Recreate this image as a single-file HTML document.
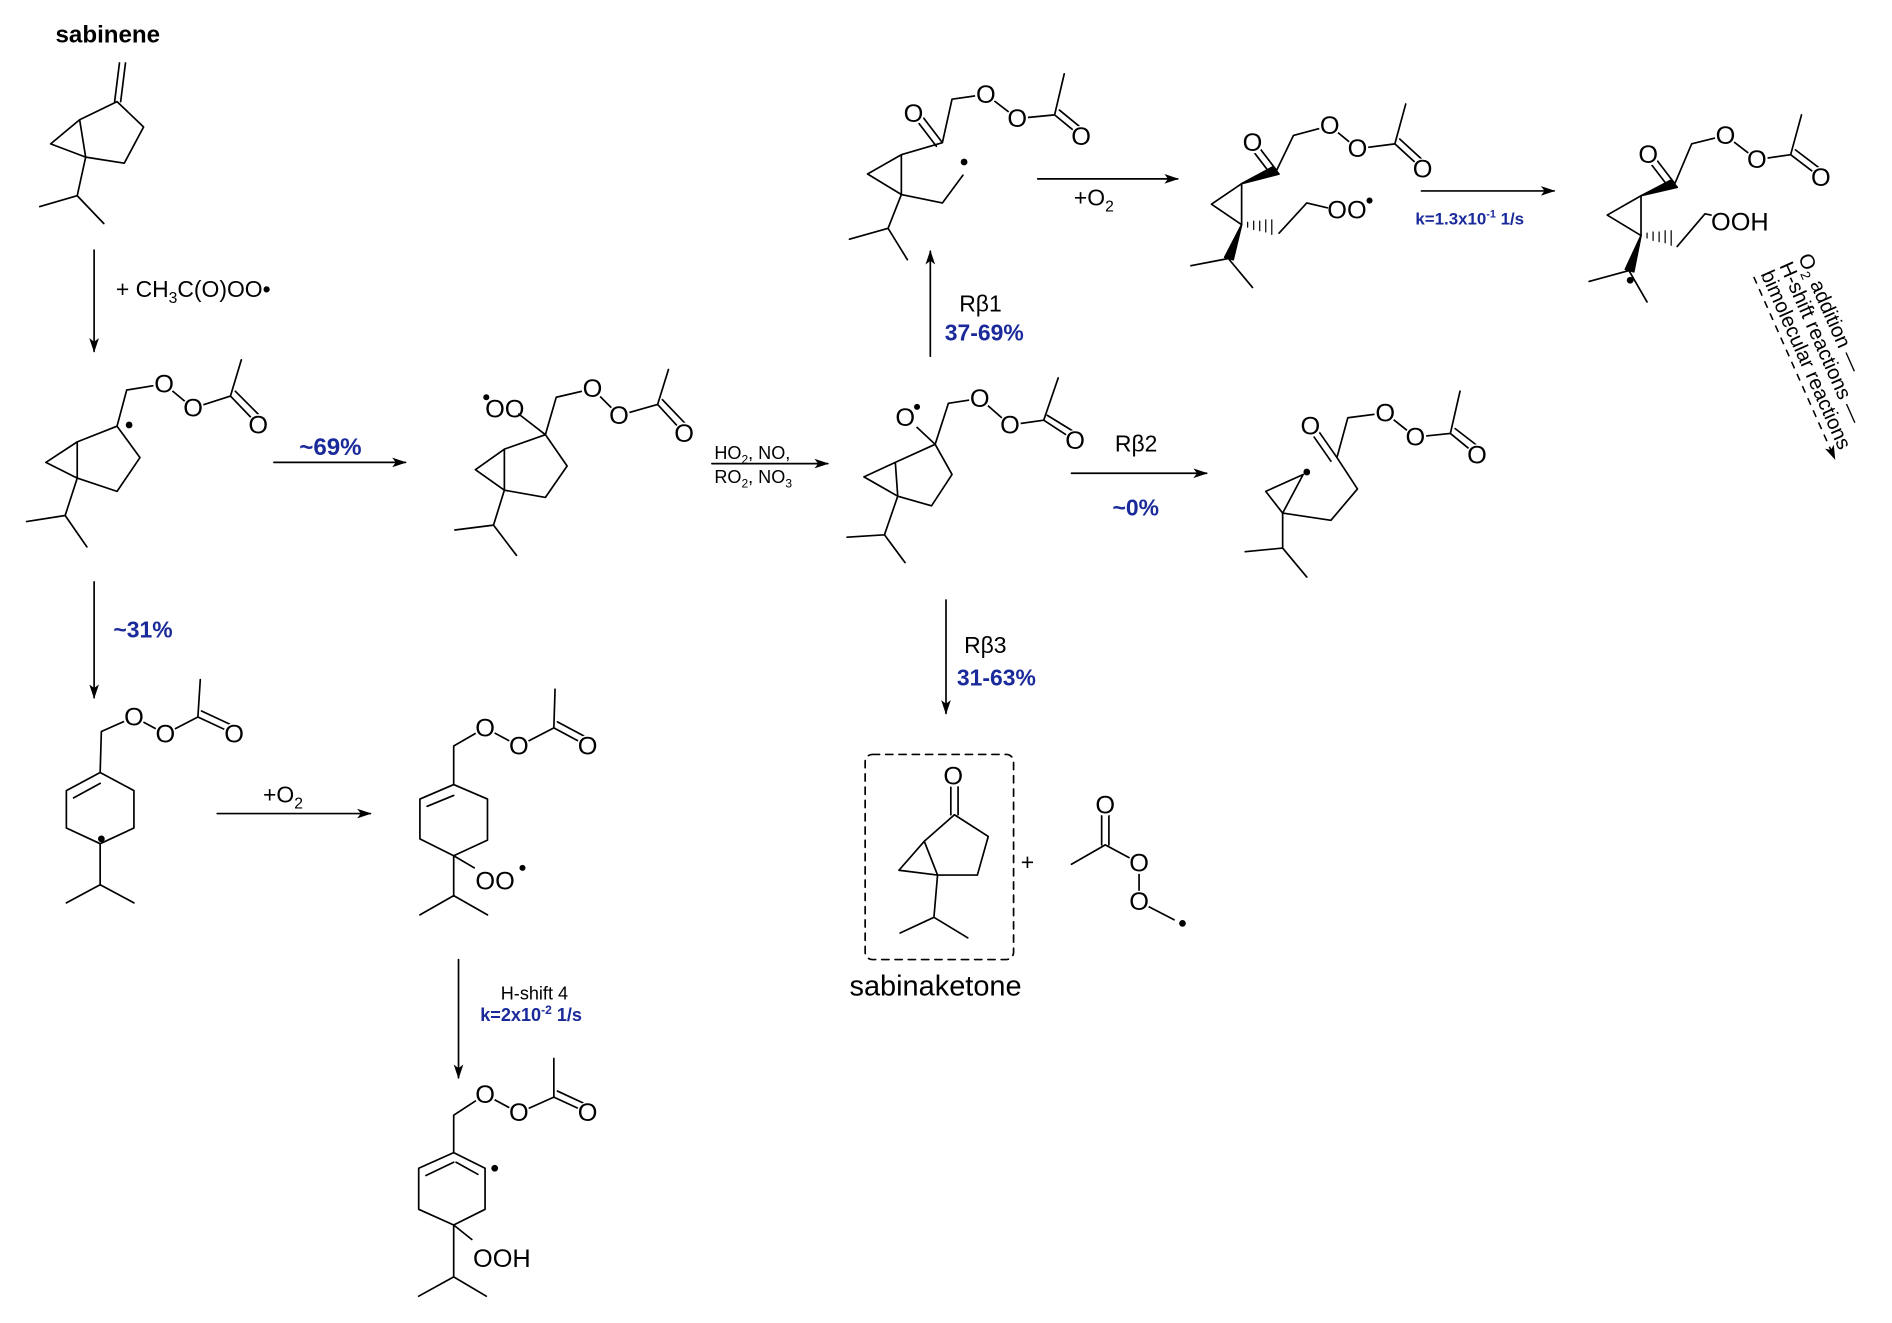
<!DOCTYPE html>
<html><head><meta charset="utf-8"><style>
html,body{margin:0;padding:0;background:#fff;}
svg{display:block;}
text{font-family:"Liberation Sans",Arial,sans-serif;}
.o{font-size:21px;text-anchor:middle;fill:#000;}
.b{fill:#1a2a9a;font-weight:bold;}
</style></head><body>
<svg width="1892" height="1323" viewBox="0 0 1568 1096" xmlns="http://www.w3.org/2000/svg">
<defs>
<marker id="ah" markerWidth="12" markerHeight="8" refX="11" refY="4" orient="auto" markerUnits="userSpaceOnUse"><path d="M0,0 L12,4 L0,8 L3,4z" fill="#000"/></marker>
</defs>
<g stroke="#000" stroke-width="1.4" fill="none" stroke-linecap="round" stroke-linejoin="round">
<line x1="78" y1="207" x2="78" y2="291" marker-end="url(#ah)"/>
<line x1="227" y1="383" x2="336" y2="383" marker-end="url(#ah)"/>
<line x1="590" y1="384" x2="686" y2="384" marker-end="url(#ah)"/>
<line x1="771" y1="295" x2="771" y2="208" marker-end="url(#ah)"/>
<line x1="860" y1="148" x2="976" y2="148" marker-end="url(#ah)"/>
<line x1="1178" y1="158" x2="1288" y2="158" marker-end="url(#ah)"/>
<line x1="888" y1="392" x2="1000" y2="392" marker-end="url(#ah)"/>
<line x1="784" y1="497" x2="784" y2="591" marker-end="url(#ah)"/>
<line x1="78" y1="482" x2="78" y2="578" marker-end="url(#ah)"/>
<line x1="180" y1="674" x2="307" y2="674" marker-end="url(#ah)"/>
<line x1="380" y1="795" x2="380" y2="893" marker-end="url(#ah)"/>
<rect x="717" y="625" width="123" height="170" rx="6" stroke-dasharray="6,5"/>

<path d="M97,84 L119,105 L103,135 L71,130 L66,99 Z M66,99 L42,119 L71,130 M71,130 L64,162 L33,171 M64,162 L86,185"/>
<path d="M95,84 L99,52 M100,84 L104,52"/>
<path d="M97,353 L116,379 L97,407 L64,396 L64,366 Z M64,366 L38,383 L64,396 M64,396 L54,427 L22,432 M54,427 L72,453"/>
<path d="M97,353 L105,323 L136,318 L160,338 L191,328 L200,298 M191,328 L214,352 M195,324 L218,347"/>
<path d="M452,360 L470,386 L452,412 L418,406 L418,372 Z M418,372 L394,389 L418,406 M418,406 L409,435 L377,439 M409,435 L428,460 M452,360 L430,343"/>
<path d="M452,360 L461,329 L491,322 L513,344 L545,335 L554,306 M545,335 L567,359 M549,331 L571,354"/>
<path d="M775,368 L789,393 L772,419 L744,411 L742,383 Z M742,383 L716,395 L744,411 M744,411 L733,443 L702,445 M733,443 L750,466 M775,368 L760,354"/>
<path d="M775,368 L786,334 L812,330 L837,352 L865,348 L877,313 M865,348 L891,365 M868,344 L894,360"/>
<path d="M747,128 L719,144 L747,161 Z M747,128 L781,118 M781,118 L765,97 M776,121 L760,100 M781,118 L789,82 L817,78 L843,98 L874,95 L882,61 M874,95 L896,113 M878,91 L900,109 M747,161 L781,168 L798,145 M747,161 L736,189 L704,198 M736,189 L752,215"/>
<path d="M1029,152 L1004,169 L1029,186 Z M1058,141 L1042,120 M1053,144 L1037,123 M1058,141 L1072,112 L1102,104 L1125,123 L1156,119 L1165,86 M1156,119 L1179,140 M1160,115 L1183,136 M1060,193 L1083,168 L1100,172 M1018,214 L987,220 M1018,214 L1038,238"/>
<polygon points="1029,152 1055,138 1060,144" fill="#000"/>
<polygon points="1029,186 1015,213 1022,215" fill="#000"/>
<path d="M1034,188 L1034,184 M1039,190 L1039,183 M1044,191 L1044,183 M1049,192 L1049,182 M1054,194 L1054,182" stroke-width="1"/>
<path d="M1360,162 L1332,178 L1360,195 Z M1388,152 L1372,131 M1383,155 L1367,134 M1388,152 L1402,119 L1430,112 L1456,132 L1484,128 L1493,95 M1484,128 L1509,147 M1488,124 L1513,143 M1390,204 L1413,177 L1418,178 M1350,224 L1317,233 M1350,224 L1365,250"/>
<polygon points="1360,162 1385,149 1390,155" fill="#000"/>
<polygon points="1360,195 1347,223 1354,225" fill="#000"/>
<path d="M1365,197 L1365,193 M1370,199 L1370,192 M1375,200 L1375,192 M1380,201 L1380,191 M1385,203 L1385,191" stroke-width="1"/>
<path d="M1049,407 L1080,393 L1063,425 Z M1063,425 L1103,431 L1125,405 L1108,379 M1108,379 L1092,356 M1103,382 L1087,359 M1108,379 L1117,346 L1148,342 L1173,362 L1202,359 L1210,324 M1202,359 L1224,377 M1206,355 L1228,372 M1063,425 L1063,454 L1032,457 M1063,454 L1083,478"/>
<path d="M791,675 L819,693 L810,725 L777,725 L766,697 Z M766,697 L745,721 L777,725 M777,725 L774,760 L746,773 M774,760 L802,777 M788,675 L788,652 M794,675 L794,652"/>
<path d="M913,700 L913,670 M919,700 L919,670 M916,700 L888,716 M916,700 L944,715 L944,747 L973,762"/>
<path d="M83,640 L111,655 L111,686 L83,699 L55,686 L55,655 Z M61,661 L83,649 M83,699 L83,733 L55,748 M83,733 L111,748 M83,640 L84,606 L111,594 L137,608 L164,594 L166,563 M164,594 L194,608 M167,589 L197,603"/>
<path d="M376,650 L404,662 L404,696 L376,709 L348,695 L348,662 Z M354,668 L376,659 M376,709 L376,742 L348,758 M376,742 L404,758 M376,709 L393,719 M376,650 L376,618 L402,603 L430,618 L459,603 L460,571 M459,603 L487,618 M462,598 L490,613"/>
<path d="M376,955 L402,968 L402,1002 L376,1015 L347,1002 L347,968 Z M353,974 L376,963 M378,963 L396,973 M376,1015 L376,1058 L347,1074 M376,1058 L403,1074 M376,1015 L391,1027 M376,955 L376,924 L402,907 L430,922 L459,909 L459,877 M459,909 L487,922 M462,904 L490,917"/>
</g>

<g fill="#fff">
<circle cx="136" cy="318" r="9"/><circle cx="160" cy="338" r="9"/><circle cx="214" cy="352" r="9"/>
<circle cx="491" cy="322" r="9"/><circle cx="513" cy="344" r="9"/><circle cx="567" cy="359" r="9"/>
<circle cx="812" cy="330" r="9"/><circle cx="837" cy="352" r="9"/><circle cx="891" cy="365" r="9"/>
<circle cx="817" cy="78" r="9"/><circle cx="843" cy="98" r="9"/><circle cx="896" cy="113" r="9"/><circle cx="757" cy="94" r="9"/>
<circle cx="1102" cy="104" r="9"/><circle cx="1125" cy="123" r="9"/><circle cx="1179" cy="140" r="9"/><circle cx="1038" cy="118" r="9"/>
<circle cx="1430" cy="112" r="9"/><circle cx="1456" cy="132" r="9"/><circle cx="1509" cy="147" r="9"/><circle cx="1366" cy="128" r="9"/>
<circle cx="1148" cy="342" r="9"/><circle cx="1173" cy="362" r="9"/><circle cx="1224" cy="377" r="9"/><circle cx="1086" cy="353" r="9"/>
<circle cx="111" cy="594" r="9"/><circle cx="137" cy="608" r="9"/><circle cx="194" cy="608" r="9"/>
<circle cx="402" cy="603" r="9"/><circle cx="430" cy="618" r="9"/><circle cx="487" cy="618" r="9"/>
<circle cx="402" cy="907" r="9"/><circle cx="430" cy="922" r="9"/><circle cx="487" cy="922" r="9"/>
<circle cx="944" cy="715" r="9"/><circle cx="944" cy="747" r="9"/>
<circle cx="916" cy="667" r="9"/><circle cx="790" cy="643" r="9"/>
</g>
<g class="o">
<text x="136" y="325">O</text><text x="160" y="345">O</text><text x="214" y="359">O</text>
<text x="491" y="329">O</text><text x="513" y="351">O</text><text x="567" y="366">O</text>
<text x="812" y="337">O</text><text x="837" y="359">O</text><text x="891" y="372">O</text>
<text x="817" y="85">O</text><text x="843" y="105">O</text><text x="896" y="120">O</text><text x="757" y="101">O</text>
<text x="1102" y="111">O</text><text x="1125" y="130">O</text><text x="1179" y="147">O</text><text x="1038" y="125">O</text>
<text x="1430" y="119">O</text><text x="1456" y="139">O</text><text x="1509" y="154">O</text><text x="1366" y="135">O</text>
<text x="1148" y="349">O</text><text x="1173" y="369">O</text><text x="1224" y="384">O</text><text x="1086" y="360">O</text>
<text x="111" y="601">O</text><text x="137" y="615">O</text><text x="194" y="615">O</text>
<text x="402" y="610">O</text><text x="430" y="625">O</text><text x="487" y="625">O</text>
<text x="402" y="914">O</text><text x="430" y="929">O</text><text x="487" y="929">O</text>
<text x="790" y="650">O</text>
<text x="916" y="674">O</text><text x="944" y="722">O</text><text x="944" y="754">O</text>
</g>
<g font-size="21">
<text x="402" y="346">OO</text>
<text x="742" y="353">O</text>
<text x="1100" y="181">OO</text>
<text x="1418" y="191">OOH</text>
<text x="394" y="737">OO</text>
<text x="392" y="1050">OOH</text>
</g>
<g fill="#000">
<circle cx="403" cy="329" r="2.5"/><circle cx="760" cy="337" r="2.5"/><circle cx="1135" cy="166" r="2.5"/><circle cx="433" cy="719" r="2.5"/>
<circle cx="107" cy="352" r="2.8"/><circle cx="799" cy="134" r="2.8"/><circle cx="1351" cy="232" r="2.8"/>
<circle cx="1083" cy="391" r="2.8"/><circle cx="84" cy="695" r="2.8"/><circle cx="410" cy="968" r="2.8"/><circle cx="980" cy="765" r="2.8"/>
</g>

<text x="46" y="35" font-size="20" font-weight="bold">sabinene</text>
<text x="96" y="246" font-size="19">+ CH<tspan font-size="13" dy="5">3</tspan><tspan dy="-5">C(O)OO•</tspan></text>
<text x="248" y="377" font-size="20" class="b">~69%</text>
<text x="592" y="380" font-size="15">HO<tspan font-size="10" dy="4">2</tspan><tspan dy="-4">, NO,</tspan></text>
<text x="592" y="400" font-size="15">RO<tspan font-size="10" dy="4">2</tspan><tspan dy="-4">, NO</tspan><tspan font-size="10" dy="4">3</tspan></text>
<text x="795" y="258" font-size="19">Rβ1</text>
<text x="783" y="282" font-size="19" class="b">37-69%</text>
<text x="890" y="170" font-size="19">+O<tspan font-size="13" dy="5">2</tspan></text>
<text x="1173" y="186" font-size="14" class="b">k=1.3x10<tspan font-size="9" dy="-6">-1</tspan><tspan dy="6"> 1/s</tspan></text>
<text x="924" y="374" font-size="19">Rβ2</text>
<text x="922" y="427" font-size="19" class="b">~0%</text>
<text x="799" y="541" font-size="19">Rβ3</text>
<text x="793" y="568" font-size="19" class="b">31-63%</text>
<text x="94" y="528" font-size="19" class="b">~31%</text>
<text x="218" y="665" font-size="19">+O<tspan font-size="13" dy="5">2</tspan></text>
<text x="415" y="828" font-size="15">H-shift 4</text>
<text x="398" y="846" font-size="15" class="b">k=2x10<tspan font-size="10" dy="-6">-2</tspan><tspan dy="6"> 1/s</tspan></text>
<text x="704" y="825" font-size="24">sabinaketone</text>
<text x="846" y="721" font-size="19">+</text>

<g transform="translate(1490,213) rotate(66)" font-size="17">
<text x="0" y="0">O<tspan font-size="11" dy="4">2</tspan><tspan dy="-4"> addition —</tspan></text>
<text x="0" y="17">H-shift reactions —</text>
<text x="0" y="34">bimolecular reactions</text>
<line x1="0" y1="40" x2="165" y2="40" stroke="#000" stroke-width="1.3" stroke-dasharray="6,5" marker-end="url(#ah)"/>
</g>
</svg>
</body></html>
